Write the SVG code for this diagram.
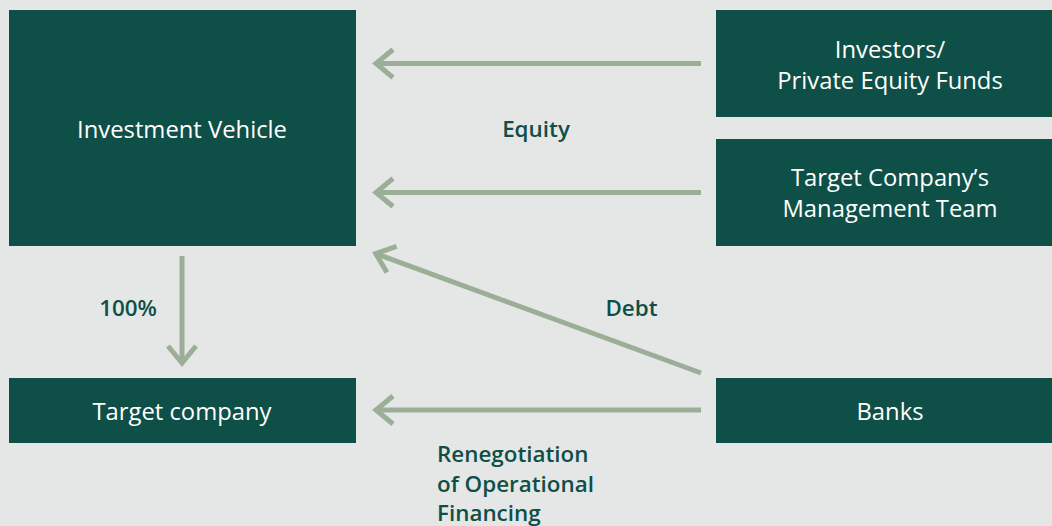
<svg xmlns="http://www.w3.org/2000/svg" width="1052" height="526" viewBox="0 0 1052 526">
<defs>
<style>
.box{fill:#0e4f47}
.bt{fill:#ffffff;font-family:"Open Sans","Liberation Sans",sans-serif;font-size:23.8px;text-anchor:middle}
.lb{fill:#0e4f47;font-family:"Open Sans","Liberation Sans",sans-serif;font-size:22.4px;font-weight:600}
.c{fill:none;stroke:#9bae97;stroke-width:5}
</style>
<marker id="arr" markerUnits="userSpaceOnUse" viewBox="-25 -20 30 40" markerWidth="30" markerHeight="40" refX="0" refY="0" orient="auto">
<path d="M-17,-14 L0,0 L-17,14" fill="none" stroke="#9bae97" stroke-width="5"/>
</marker>
</defs>
<rect x="0" y="0" width="1052" height="526" fill="#e5e7e6"/>
<g id="investment-vehicle">
<rect class="box" x="9" y="10" width="347" height="236"/>
<text class="bt" x="182" y="137.5">Investment Vehicle</text>
</g>
<g id="investors">
<rect class="box" x="716" y="10" width="336" height="107"/>
<text class="bt" x="890" y="58">Investors/</text>
<text class="bt" x="890" y="88.5">Private Equity Funds</text>
</g>
<g id="management">
<rect class="box" x="716" y="139" width="336" height="107"/>
<text class="bt" x="890" y="186">Target Company’s</text>
<text class="bt" x="890" y="217">Management Team</text>
</g>
<g id="target-company">
<rect class="box" x="9" y="378" width="347" height="65"/>
<text class="bt" x="182" y="420">Target company</text>
</g>
<g id="banks">
<rect class="box" x="716" y="378" width="336" height="65"/>
<text class="bt" x="890" y="420">Banks</text>
</g>
<g id="connectors">
<line class="c" x1="701" y1="63.5" x2="376" y2="63.5" marker-end="url(#arr)"/>
<line class="c" x1="701" y1="192.5" x2="376" y2="192.5" marker-end="url(#arr)"/>
<line class="c" x1="701" y1="373" x2="375.8" y2="253.6" marker-end="url(#arr)"/>
<line class="c" x1="701" y1="410" x2="376" y2="410" marker-end="url(#arr)"/>
<line class="c" x1="182" y1="256" x2="182" y2="363" marker-end="url(#arr)"/>
</g>
<g id="labels">
<text class="lb" x="536" y="136.5" text-anchor="middle">Equity</text>
<text class="lb" x="128" y="316" text-anchor="middle">100%</text>
<text class="lb" x="631.5" y="316" text-anchor="middle">Debt</text>
<text class="lb" x="437" y="461.5">Renegotiation</text>
<text class="lb" x="437" y="491.5">of Operational</text>
<text class="lb" x="437" y="520.5">Financing</text>
</g>
</svg>
